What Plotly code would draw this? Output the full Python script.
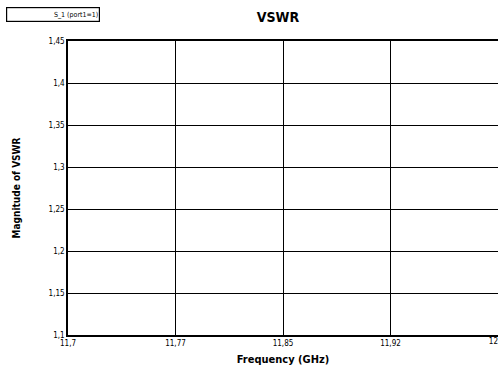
import plotly.graph_objects as go

# Axis definitions (empty chart: only grid, axes and legend label)
x_tick_vals = [11.7, 11.775, 11.85, 11.925, 12.0]
x_tick_text = ["11,7", "11,77", "11,85", "11,92", "12"]
y_tick_vals = [1.1, 1.15, 1.2, 1.25, 1.3, 1.35, 1.4, 1.45]
y_tick_text = ["1,1", "1,15", "1,2", "1,25", "1,3", "1,35", "1,4", "1,45"]
series_name = "S_1 (port1=1)"
freq = []
vswr = []

FONT = "Liberation Sans Narrow, DejaVu Sans Condensed, Arial Narrow, Liberation Sans, sans-serif"

fig = go.Figure()
fig.add_trace(go.Scatter(x=freq, y=vswr, mode="lines", name=series_name,
                         line=dict(color="black", width=1), showlegend=False))
# helper overlay axis carrying only the last (edge) tick label, right-aligned
fig.add_trace(go.Scatter(x=freq, y=vswr, mode="lines", xaxis="x2", yaxis="y",
                         showlegend=False, hoverinfo="skip"))

fig.update_layout(
    width=498, height=372,
    margin=dict(l=68, r=0, t=41, b=37, autoexpand=False),
    paper_bgcolor="white", plot_bgcolor="white",
    separators=",.",
    font=dict(family=FONT, color="black", size=9),
    title=dict(text="<b>VSWR</b>", x=0.558, xref="container", xanchor="center",
               y=0.955, yref="container", yanchor="middle",
               font=dict(family=FONT, size=14, color="black")),
    xaxis=dict(range=[11.7, 12.0], tickvals=x_tick_vals[:-1], ticktext=x_tick_text[:-1],
               showgrid=True, gridcolor="black", gridwidth=1, zeroline=False,
               showline=True, linecolor="black", linewidth=1.5, mirror=True,
               ticks="", tickfont=dict(size=8),
               automargin=False,
               title=dict(text="<b>Frequency (GHz)</b>", standoff=8,
                          font=dict(family=FONT, size=11))),
    xaxis2=dict(range=[11.7, 12.0], tickvals=x_tick_vals[-1:], ticktext=x_tick_text[-1:],
                overlaying="x", side="bottom", anchor="y",
                showgrid=False, zeroline=False, showline=False,
                ticks="", tickfont=dict(size=8), ticklabelposition="outside left",
                ticklabeloverflow="allow", automargin=False),
    yaxis=dict(range=[1.1, 1.45], tickvals=y_tick_vals, ticktext=y_tick_text,
               showgrid=True, gridcolor="black", gridwidth=1, zeroline=False,
               showline=True, linecolor="black", linewidth=1.5, mirror=False,
               ticks="", tickfont=dict(size=8), automargin=False,
               title=dict(text="<b>Magnitude of VSWR</b>", standoff=26,
                          font=dict(family=FONT, size=10))),
)

fig.add_annotation(text=series_name, xref="paper", yref="paper",
                   x=(100 - 68) / 430, y=1 + (41 - 15) / 294,
                   xanchor="right", yanchor="middle", showarrow=False,
                   align="right", width=90, height=11,
                   bordercolor="black", borderwidth=1.2, borderpad=1,
                   font=dict(family=FONT, size=7, color="black"))

fig.write_html("out.html")
